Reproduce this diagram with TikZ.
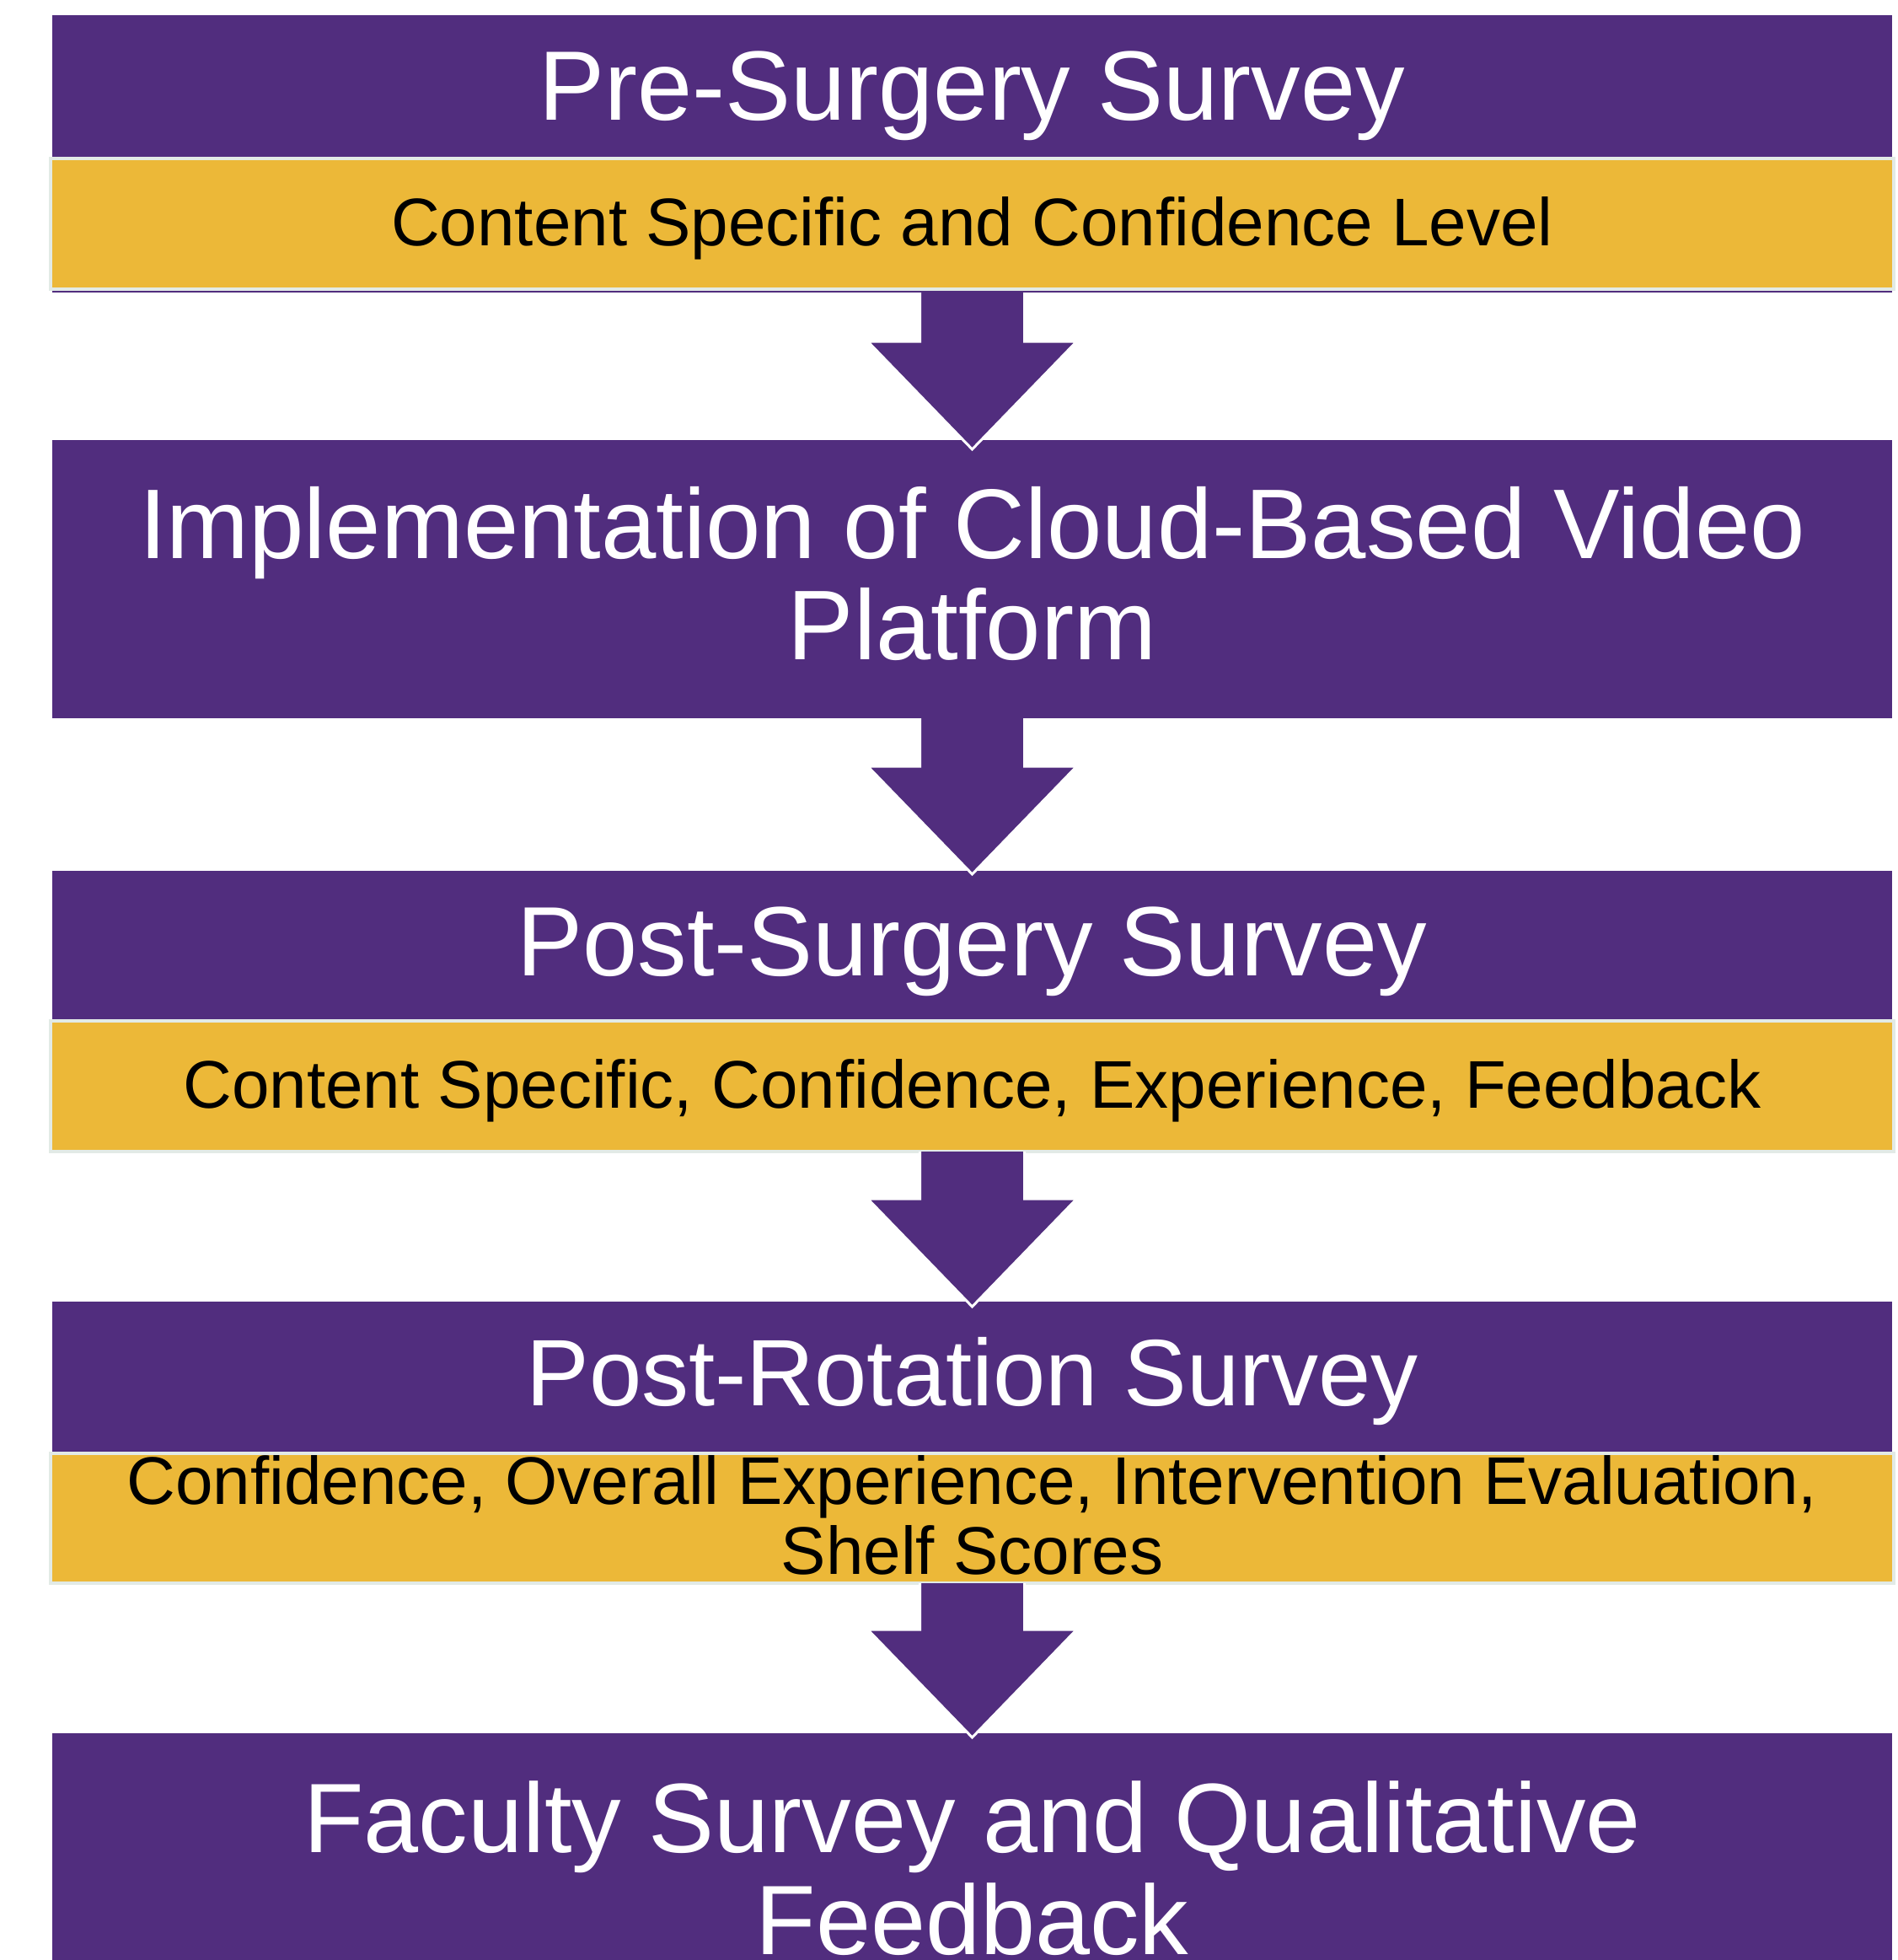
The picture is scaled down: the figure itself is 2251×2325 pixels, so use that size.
\documentclass[tikz,border=0pt]{standalone}
\usepackage{fontspec}
\setmainfont{Liberation Sans}
\usetikzlibrary{calc}
\definecolor{ecupurple}{RGB}{81,45,126}
\definecolor{ecugold}{RGB}{236,184,56}
\definecolor{edgegray}{RGB}{226,234,230}
\newcommand{\stepArrow}[3]{%
  \filldraw[arrowbody] ($(#1.south)+(-62,0)$) -- ($(#2.north)+(-62,#3-128)$)
    -- ($(#2.north)+(-124,#3-128)$) -- ($(#2.north)+(0,#3)$)
    -- ($(#2.north)+(124,#3-128)$) -- ($(#2.north)+(62,#3-128)$)
    -- ($(#1.south)+(62,0)$);
}
\begin{document}
\begin{tikzpicture}[x=1pt,y=-1pt,
  header/.style={fill=ecupurple, draw=none, inner sep=0pt, outer sep=0pt, anchor=north west, minimum width=2183pt},
  detail/.style={fill=ecugold, draw=edgegray, line width=4pt, inner sep=0pt, outer sep=0pt, anchor=north west, minimum width=2187pt},
  titletext/.style={text=white, inner sep=0pt, anchor=base, align=center},
  subtext/.style={text=black, inner sep=0pt, anchor=base, align=center},
  arrowbody/.style={fill=ecupurple, draw=white, line width=3pt, line join=miter}]
\useasboundingbox (0,0) rectangle (2251,2325);
% boxes
\node[header, minimum height=329pt] (b1) at (62,18) {};
\node[detail, minimum height=155pt] (y1) at (60,188) {};
\node[header, minimum height=330pt] (b2) at (62,522) {};
\node[header, minimum height=178pt] (b3) at (62,1033) {};
\node[detail, minimum height=155pt] (y3) at (60,1211) {};
\node[header, minimum height=180pt] (b4) at (62,1544) {};
\node[detail, minimum height=154pt] (y4) at (60,1724) {};
\node[header, minimum height=300pt] (b5) at (62,2056) {};
% arrows
\stepArrow{b1}{b2}{11}
\stepArrow{b2}{b3}{4}
\stepArrow{y3}{b4}{6}
\stepArrow{y4}{b5}{5}
% texts (multi-line nodes: base anchor = baseline of last line)
\node[titletext, font=\fontsize{117pt}{120pt}\selectfont] (t1) at (1153.5,143) {Pre-Surgery Survey};
\node[subtext, font=\fontsize{80pt}{83pt}\selectfont] (s1) at (1153.5,291) {Content Specific and Confidence Level};
\node[titletext, font=\fontsize{117.5pt}{120pt}\selectfont] (t2) at (1153.5,782) {Implementation of Cloud-Based Video\\Platform};
\node[titletext, font=\fontsize{117pt}{120pt}\selectfont] (t3) at (1153.5,1157) {Post-Surgery Survey};
\node[subtext, font=\fontsize{80pt}{83pt}\selectfont] (s3) at (1153.5,1314) {Content Specific, Confidence, Experience, Feedback};
\node[titletext, font=\fontsize{112pt}{120pt}\selectfont] (t4) at (1153.5,1667) {Post-Rotation Survey};
\node[subtext, font=\fontsize{80pt}{83pt}\selectfont] (s4) at (1153.5,1867) {Confidence, Overall Experience, Intervention Evaluation,\\Shelf Scores};
\node[titletext, font=\fontsize{117pt}{121pt}\selectfont] (t5) at (1153.5,2318) {Faculty Survey and Qualitative\\Feedback};
\end{tikzpicture}
\end{document}
